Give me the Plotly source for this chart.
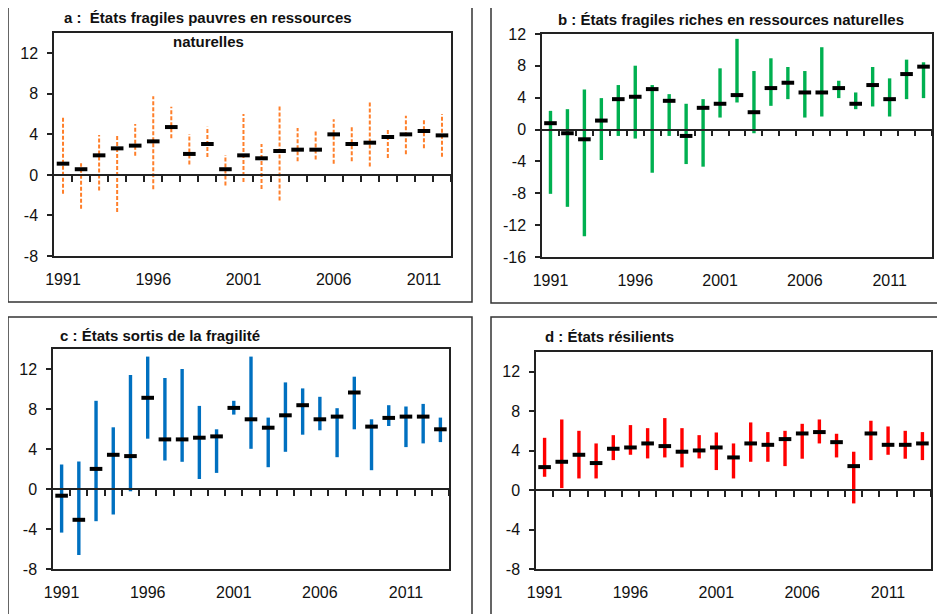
import plotly.graph_objects as go

# the page body adds an 8px margin, so the figure is laid out 8px in from the window edge
OFF = 8
W, H = 945 - OFF, 614 - OFF

YEARS = [1991, 1992, 1993, 1994, 1995, 1996, 1997, 1998, 1999, 2000, 2001, 2002,
         2003, 2004, 2005, 2006, 2007, 2008, 2009, 2010, 2011, 2012, 2013]
TICK_YEARS = [1991, 1996, 2001, 2006, 2011]

# a : fragile, resource-poor (1991-2012)
a_mean = [1.11, 0.56, 1.93, 2.62, 2.89, 3.31, 4.72, 2.07, 3.05, 0.56, 1.93, 1.64,
          2.36, 2.49, 2.49, 4.00, 3.05, 3.18, 3.74, 4.00, 4.33, 3.90]
a_high = [5.84, 1.15, 3.93, 4.03, 5.02, 7.77, 6.72, 4.03, 4.75, 1.97, 6.00, 3.05,
          6.82, 4.62, 4.46, 5.48, 4.75, 7.28, 4.43, 5.84, 5.48, 6.00]
a_low = [-1.87, -3.34, -1.54, -3.67, 1.90, -1.41, 3.61, 1.02, 1.77, -1.05, -0.69, -1.38,
         -2.52, 1.34, 1.51, 1.11, 1.34, 0.82, 1.67, 2.03, 2.62, 1.80]

# b : fragile, resource-rich
b_mean = [0.80, -0.46, -1.22, 1.13, 3.82, 4.12, 5.08, 3.61, -0.80, 2.73, 3.24, 4.33,
          2.18, 5.21, 5.88, 4.66, 4.66, 5.21, 3.24, 5.59, 3.82, 6.97, 7.90]
b_high = [2.35, 2.56, 5.04, 3.95, 5.59, 8.02, 5.59, 4.45, 3.24, 3.82, 7.69, 11.39,
          7.35, 8.95, 7.86, 7.35, 10.34, 6.13, 4.66, 7.86, 6.43, 8.78, 8.45]
b_low = [-8.07, -9.70, -13.40, -3.82, -0.80, -1.13, -5.42, -0.80, -4.33, -4.66, 1.51, 3.40,
         -0.46, 2.98, 3.82, 1.51, 1.64, 3.95, 2.56, 2.90, 1.64, 3.82, 3.95]

# c : exited fragility
c_mean = [-0.67, -3.08, 2.01, 3.42, 3.29, 9.12, 4.96, 4.96, 5.13, 5.26, 8.11, 6.97,
          6.13, 7.37, 8.38, 6.97, 7.24, 9.65, 6.24, 7.11, 7.24, 7.24, 5.97]
c_high = [2.45, 2.75, 8.82, 6.17, 11.40, 13.24, 11.10, 12.00, 8.31, 5.97, 8.82, 13.24,
          7.14, 10.66, 10.06, 9.22, 8.08, 11.23, 6.97, 8.38, 8.25, 8.51, 7.14]
c_low = [-4.36, -6.60, -3.22, -2.55, -0.23, 5.03, 2.85, 2.72, 1.00, 1.61, 7.44, 4.02,
         2.18, 3.72, 5.43, 5.87, 3.18, 5.97, 1.88, 6.30, 4.19, 4.56, 4.69]

# d : resilient
d_mean = [2.33, 2.87, 3.58, 2.74, 4.19, 4.32, 4.73, 4.46, 3.89, 4.02, 4.32, 3.31,
          4.73, 4.59, 5.17, 5.74, 5.88, 4.86, 2.43, 5.74, 4.59, 4.59, 4.73]
d_high = [5.30, 7.16, 6.01, 4.73, 5.57, 6.59, 6.28, 7.30, 6.28, 5.57, 5.84, 4.73,
          6.86, 5.88, 6.01, 6.72, 7.16, 5.71, 3.89, 7.03, 6.45, 6.01, 5.88]
d_low = [1.35, 0.20, 1.18, 1.18, 3.04, 3.58, 3.21, 3.31, 2.30, 3.21, 2.03, 1.18,
         2.87, 2.87, 2.43, 3.18, 4.73, 3.31, -1.35, 3.04, 3.58, 3.18, 3.04]

Y_TICKS = [-16, -12, -8, -4, 0, 4, 8, 12]

TICK_FONT = dict(family='Liberation Sans, Arial', size=16, color='#111111')
TITLE_FONT = dict(family='Liberation Sans, Arial', size=15, color='#111111')

# panel definitions: plot area in window pixels (left, top, right, bottom), y range, colour, dash
PANELS = [
    dict(years=YEARS[:22], mean=a_mean, high=a_high, low=a_low, color='#FF7F2A', dash='4px,2px',
         width=2, yr=[-8, 14], box=(54, 33, 451, 256)),
    dict(years=YEARS, mean=b_mean, high=b_high, low=b_low, color='#00B050', dash='solid',
         width=3.4, yr=[-16, 12], box=(542, 34, 932, 257)),
    dict(years=YEARS, mean=c_mean, high=c_high, low=c_low, color='#0070C0', dash='solid',
         width=3.4, yr=[-8, 14], box=(53, 349, 449, 569)),
    dict(years=YEARS, mean=d_mean, high=d_high, low=d_low, color='#FF0000', dash='solid',
         width=3.4, yr=[-8, 14], box=(536, 352, 931, 569)),
]


def px_x(x):
    return (x - OFF) / W


def px_y(y):
    return 1 - (y - OFF) / H


def ranges_path(years, low, high):
    """vertical low-high segments separated by gaps"""
    xs, ys = [], []
    for yr, lo, hi in zip(years, low, high):
        xs += [yr, yr, None]
        ys += [lo, hi, None]
    return xs, ys


fig = go.Figure()
layout = dict(width=W, height=H, margin=dict(l=0, r=0, t=0, b=0, autoexpand=False),
              paper_bgcolor='white', plot_bgcolor='white', showlegend=False)

AXIS_COMMON = dict(showline=True, linecolor='#222222', linewidth=1.5, showgrid=False,
                   zeroline=False, automargin=False)

for i, p in enumerate(PANELS):
    n = i + 1
    sx = '' if n == 1 else str(n)
    l, t, r, b = p['box']
    xdom = [px_x(l), px_x(r)]
    ydom = [px_y(b), px_y(t)]
    xr = [p['years'][0] - 0.5, p['years'][-1] + 0.5]
    yt = [v for v in Y_TICKS if v >= p['yr'][0]]

    xs, ys = ranges_path(p['years'], p['low'], p['high'])
    fig.add_trace(go.Scatter(x=xs, y=ys, mode='lines', xaxis='x' + sx, yaxis='y' + sx,
                             line=dict(color=p['color'], width=p['width'], dash=p['dash']),
                             hoverinfo='skip'))
    fig.add_trace(go.Scatter(x=p['years'], y=p['mean'], mode='markers', xaxis='x' + sx, yaxis='y' + sx,
                             marker=dict(symbol='line-ew', size=9,
                                         line=dict(color='black', width=4))))
    # invisible copy so the zero-crossing axis gets drawn
    fig.add_trace(go.Scatter(x=p['years'], y=p['mean'], mode='markers', xaxis='x' + str(n + 4),
                             yaxis='y' + sx, marker=dict(opacity=0), hoverinfo='skip'))

    layout['xaxis' + sx] = dict(domain=xdom, range=xr, anchor='y' + sx, mirror=True,
                                tickvals=TICK_YEARS, ticks='', tickfont=TICK_FONT,
                                ticklabelstandoff=8, **AXIS_COMMON)
    layout['yaxis' + sx] = dict(domain=ydom, range=p['yr'], anchor='x' + sx, mirror=True,
                                tickvals=yt, ticktext=[str(v) for v in yt],
                                ticks='outside', ticklen=5, tickcolor='#222222', tickwidth=1.5,
                                tickfont=TICK_FONT, ticklabelstandoff=6, **AXIS_COMMON)
    # category axis crossing at zero, with tick marks between years
    zero_pos = ydom[0] + (0 - p['yr'][0]) / (p['yr'][1] - p['yr'][0]) * (ydom[1] - ydom[0])
    layout['xaxis' + str(n + 4)] = dict(domain=xdom, range=xr, overlaying='x' + sx, anchor='free',
                                        position=zero_pos, tickvals=[y + 0.5 for y in p['years']],
                                        ticks='outside', ticklen=6, tickwidth=1.5,
                                        tickcolor='#222222', showticklabels=False, **AXIS_COMMON)

fig.update_layout(**layout)

# outer frames round each panel
for x0, y0, x1, y1 in [(8, 5, 472, 302), (491, 5, 950, 303), (8, 317, 472, 620), (491, 317, 950, 620)]:
    fig.add_shape(type='rect', xref='paper', yref='paper', x0=px_x(x0), x1=px_x(x1),
                  y0=px_y(y1), y1=px_y(y0), line=dict(color='#333333', width=1.5))

titles = [
    ('a :  États fragiles pauvres en ressources', 62, 18, 'left'),
    ('naturelles', 208, 41, 'center'),
    ('b : États fragiles riches en ressources naturelles', 731, 19, 'center'),
    ('c : États sortis de la fragilité', 58, 335, 'left'),
    ('d : États résilients', 543, 336, 'left'),
]
for text, x, y, anchor in titles:
    fig.add_annotation(text='<b>' + text + '</b>', xref='paper', yref='paper', x=px_x(x), y=px_y(y),
                       xanchor=anchor, yanchor='middle', showarrow=False, font=TITLE_FONT)

fig.write_html('out.html')
